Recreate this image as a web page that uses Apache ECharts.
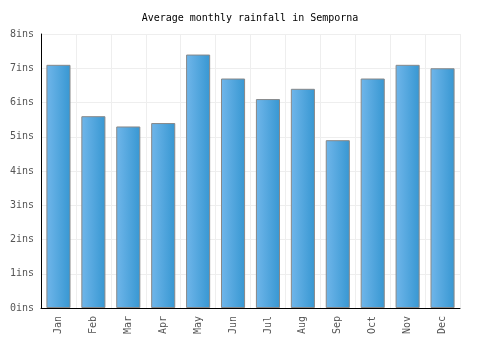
<!DOCTYPE html>
<html>
<head>
<meta charset="UTF-8">
<script src="https://cdn.jsdelivr.net/npm/echarts@6/dist/echarts.min.js"></script>
<style>
html, body { margin: 0; padding: 0; background: #fff; }
#chart { width: 500px; height: 350px; }
</style>
</head>
<body>
<div id="chart"></div>
<script>
var months = ['Jan', 'Feb', 'Mar', 'Apr', 'May', 'Jun', 'Jul', 'Aug', 'Sep', 'Oct', 'Nov', 'Dec'];
var rainfall = [7.1, 5.6, 5.3, 5.4, 7.4, 6.7, 6.1, 6.4, 4.9, 6.7, 7.1, 7.0];
var chartTitle = 'Average monthly rainfall in Semporna';

var font = '"DejaVu Sans Mono", monospace';
var myChart = echarts.init(document.getElementById('chart'));
var option = {
	animation: false,
	title: {
		text: chartTitle,
		left: 'center',
		top: 8,
		textStyle: { fontFamily: font, fontSize: 10, fontWeight: 'normal', color: '#000' }
	},
	grid: { left: 41, right: 40, top: 34, bottom: 42 },
	xAxis: {
		type: 'category',
		data: months,
		axisLine: { lineStyle: { color: '#000', width: 1 } },
		axisTick: { show: false },
		axisLabel: { rotate: 90, fontFamily: font, fontSize: 10, color: '#555', margin: 8 },
		splitLine: { show: true, lineStyle: { color: '#eee' } }
	},
	yAxis: {
		type: 'value',
		min: 0,
		max: 8,
		interval: 1,
		axisLine: { show: true, lineStyle: { color: '#000', width: 1 } },
		axisTick: { show: false },
		axisLabel: { formatter: '{value}ins', fontFamily: font, fontSize: 10, color: '#555', margin: 7 },
		splitLine: { lineStyle: { color: '#eee' } }
	},
	series: [{
		type: 'bar',
		data: rainfall,
		barWidth: '69%',
		itemStyle: {
			borderColor: '#888',
			borderWidth: 1,
			color: new echarts.graphic.LinearGradient(0, 0, 1, 0, [
				{ offset: 0, color: '#70b6ea' },
				{ offset: 1, color: '#3797d2' }
			])
		}
	}]
};
myChart.setOption(option);
</script>
</body>
</html>
